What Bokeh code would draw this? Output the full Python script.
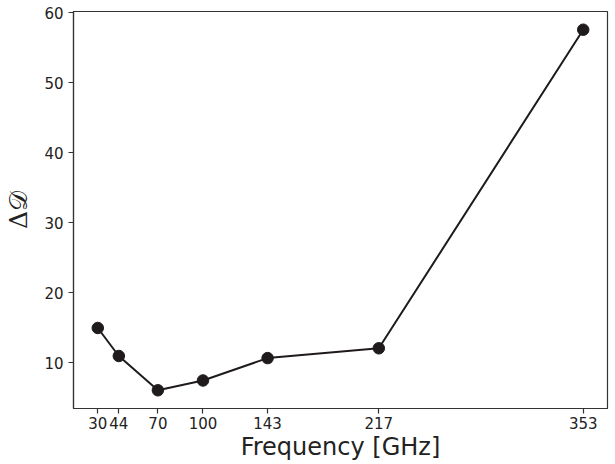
from bokeh.plotting import figure
from bokeh.models import FixedTicker, Range1d
from bokeh.embed import file_html
from bokeh.resources import INLINE

freq = [30, 44, 70, 100, 143, 217, 353]
delta_d = [15.0, 11.0, 6.1, 7.5, 10.7, 12.1, 57.6]
x_ticks = [30, 44, 70, 100, 143, 217, 353]
y_ticks = [10, 20, 30, 40, 50, 60]

col = "#1f1a1c"

p = figure(width=615, height=464, output_backend="svg", toolbar_location=None,
           x_range=Range1d(13.85, 369.15), y_range=Range1d(3.5, 60.2),
           min_border_left=73, min_border_right=8, min_border_top=11, min_border_bottom=56)

p.line(freq, delta_d, line_color=col, line_width=2)
p.scatter(freq, delta_d, size=11.5, fill_color=col, line_color=col)

p.grid.visible = False
p.outline_line_color = "#333333"
p.outline_line_width = 1.2
p.background_fill_color = "white"
p.border_fill_color = "white"

for ax in (p.xaxis, p.yaxis):
    ax.axis_line_color = "#333333"
    ax.axis_line_width = 1.2
    ax.major_tick_line_color = "#333333"
    ax.major_tick_line_width = 1.2
    ax.major_tick_out = 5
    ax.major_tick_in = 0
    ax.minor_tick_line_color = None
    ax.major_label_text_font = "DejaVu Sans"
    ax.major_label_text_font_size = "15px"
    ax.major_label_text_color = "#222222"
    ax.axis_label_text_color = "#222222"
    ax.axis_label_text_font_style = "normal"

p.xaxis.ticker = FixedTicker(ticks=x_ticks)
p.yaxis.ticker = FixedTicker(ticks=y_ticks)
p.xaxis.major_label_standoff = 3
p.yaxis.major_label_standoff = 5
p.xaxis.axis_label = "Frequency [GHz]"
p.xaxis.axis_label_text_font = "DejaVu Sans"
p.xaxis.axis_label_text_font_size = "24px"
p.xaxis.axis_label_standoff = 1
p.yaxis.axis_label = "Δ𝒟"
p.yaxis.axis_label_text_font = "DejaVu Serif"
p.yaxis.axis_label_text_font_size = "25px"
p.yaxis.axis_label_standoff = 8

open("out.html", "w").write(file_html(p, INLINE))
